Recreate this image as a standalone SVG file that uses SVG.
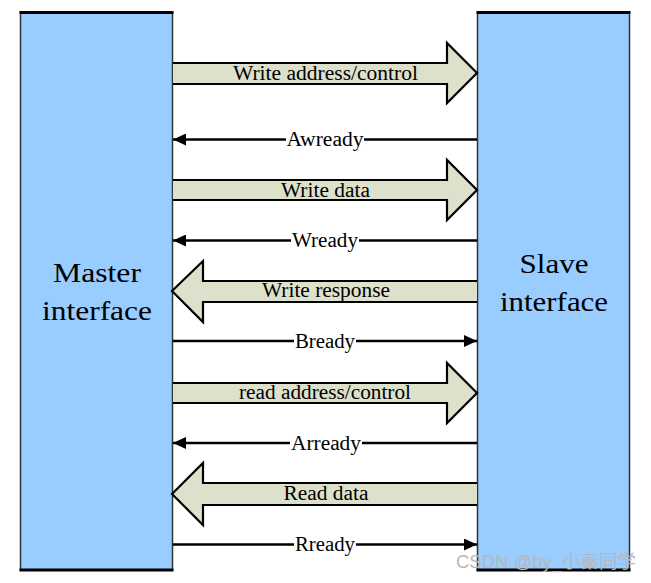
<svg xmlns="http://www.w3.org/2000/svg" width="651" height="583" viewBox="0 0 651 583">
<style>
.box{fill:#99CCFF;stroke:#333;stroke-width:1.5}
.edge{stroke:#000;stroke-width:3}
.fat{fill:#DDE1CC;stroke:none}
.fatline{fill:none;stroke:#000;stroke-width:2.2;stroke-linejoin:miter}
.thin{stroke:#000;stroke-width:2.5}
.big{font-family:"Liberation Serif","Times New Roman",serif;font-size:27px;fill:#000;text-anchor:middle}
.lbl{font-family:"Liberation Serif","Times New Roman",serif;font-size:20px;fill:#000;text-anchor:middle}
.wm{font-family:"Liberation Sans","Noto Sans CJK SC",sans-serif;font-size:18px;fill:#b8b8b8}
</style>
<defs>
<marker id="ah" viewBox="0 0 13 12" refX="13" refY="6" markerWidth="13" markerHeight="12" markerUnits="userSpaceOnUse" orient="auto">
<path d="M0,0 L13,6 L0,12 Z" fill="#000"/>
</marker>
</defs>
<rect width="651" height="583" fill="#fff"/>
<g id="master">
<rect class="box" x="20.5" y="12.5" width="152" height="557.5"/>
<line class="edge" x1="19.5" y1="12.5" x2="173.5" y2="12.5"/>
<line class="edge" x1="19.5" y1="570" x2="173.5" y2="570"/>
<text class="big" x="97" y="282" textLength="88" lengthAdjust="spacingAndGlyphs">Master</text>
<text class="big" x="97" y="320" textLength="110" lengthAdjust="spacingAndGlyphs">interface</text>
</g>
<g id="slave">
<rect class="box" x="477.5" y="12.5" width="152" height="557.5"/>
<line class="edge" x1="476.5" y1="12.5" x2="630.5" y2="12.5"/>
<line class="edge" x1="476.5" y1="570" x2="630.5" y2="570"/>
<text class="big" x="554" y="273" textLength="69" lengthAdjust="spacingAndGlyphs">Slave</text>
<text class="big" x="554" y="311" textLength="108" lengthAdjust="spacingAndGlyphs">interface</text>
</g>
<g id="connectors">
<!-- Write address/control -->
<polygon class="fat" points="173,63 447,63 447,43 477,73 447,103 447,84 173,84"/>
<polyline class="fatline" points="173,63 447,63 447,43 477,73 447,103 447,84 173,84"/>
<text class="lbl" x="325.5" y="80" textLength="185" lengthAdjust="spacingAndGlyphs">Write address/control</text>
<!-- Awready -->
<line class="thin" x1="286" y1="139.5" x2="173" y2="139.5" marker-end="url(#ah)"/>
<line class="thin" x1="364" y1="139.5" x2="477" y2="139.5"/>
<text class="lbl" x="325" y="146" textLength="77" lengthAdjust="spacingAndGlyphs">Awready</text>
<!-- Write data -->
<polygon class="fat" points="173,180 447,180 447,160 477,190 447,220 447,200 173,200"/>
<polyline class="fatline" points="173,180 447,180 447,160 477,190 447,220 447,200 173,200"/>
<text class="lbl" x="325.5" y="197" textLength="89" lengthAdjust="spacingAndGlyphs">Write data</text>
<!-- Wready -->
<line class="thin" x1="291" y1="240.5" x2="173" y2="240.5" marker-end="url(#ah)"/>
<line class="thin" x1="359" y1="240.5" x2="477" y2="240.5"/>
<text class="lbl" x="325" y="247" textLength="66" lengthAdjust="spacingAndGlyphs">Wready</text>
<!-- Write response -->
<polygon class="fat" points="477,281 203,281 203,261 172,291 203,322 203,302 477,302"/>
<polyline class="fatline" points="477,281 203,281 203,261 172,291 203,322 203,302 477,302"/>
<text class="lbl" x="326" y="297" textLength="128" lengthAdjust="spacingAndGlyphs">Write response</text>
<!-- Bready -->
<line class="thin" x1="173" y1="341" x2="294" y2="341"/>
<line class="thin" x1="356" y1="341" x2="477" y2="341" marker-end="url(#ah)"/>
<text class="lbl" x="325" y="348" textLength="60" lengthAdjust="spacingAndGlyphs">Bready</text>
<!-- read address/control -->
<polygon class="fat" points="173,383 447,383 447,363 477,393 447,423 447,403 173,403"/>
<polyline class="fatline" points="173,383 447,383 447,363 477,393 447,423 447,403 173,403"/>
<text class="lbl" x="325" y="399" textLength="172" lengthAdjust="spacingAndGlyphs">read address/control</text>
<!-- Arready -->
<line class="thin" x1="290" y1="443" x2="173" y2="443" marker-end="url(#ah)"/>
<line class="thin" x1="362" y1="443" x2="477" y2="443"/>
<text class="lbl" x="326" y="450" textLength="70" lengthAdjust="spacingAndGlyphs">Arready</text>
<!-- Read data -->
<polygon class="fat" points="477,483 203,483 203,463 172,494 203,525 203,505 477,505"/>
<polyline class="fatline" points="477,483 203,483 203,463 172,494 203,525 203,505 477,505"/>
<text class="lbl" x="326" y="500" textLength="85" lengthAdjust="spacingAndGlyphs">Read data</text>
<!-- Rready -->
<line class="thin" x1="173" y1="544.5" x2="294" y2="544.5"/>
<line class="thin" x1="356" y1="544.5" x2="477" y2="544.5" marker-end="url(#ah)"/>
<text class="lbl" x="325" y="551" textLength="60" lengthAdjust="spacingAndGlyphs">Rready</text>
</g>
<text class="wm" x="456" y="568" textLength="180" lengthAdjust="spacingAndGlyphs">CSDN @by_小秦同学</text>
</svg>
